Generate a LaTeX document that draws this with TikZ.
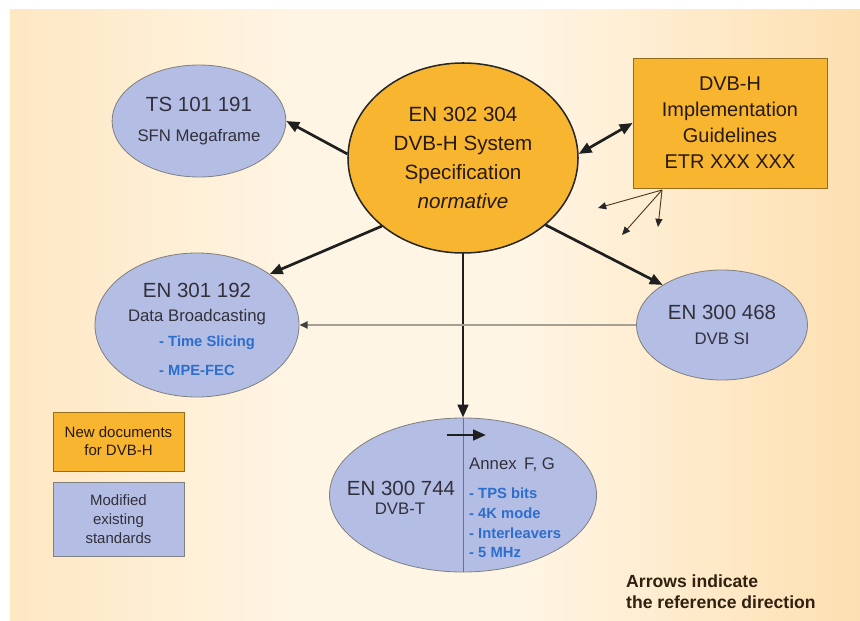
\documentclass[tikz,border=0pt]{standalone}
\usepackage{fontspec}
\setmainfont{Liberation Sans}
\usepackage{xcolor}
\usetikzlibrary{arrows.meta,shapes.geometric}

\definecolor{bgleft}{RGB}{252,210,145}
\definecolor{bgmid}{RGB}{255,245,228}
\definecolor{bgright}{RGB}{251,197,114}
\definecolor{docorange}{RGB}{248,182,48}
\definecolor{docblue}{RGB}{180,190,228}
\definecolor{inkdark}{RGB}{50,48,60}
\definecolor{inkblue}{RGB}{45,110,205}
\definecolor{reflinegray}{RGB}{165,160,145}

\pgfdeclarehorizontalshading{bgshade}{100bp}{color(0bp)=(bgleft); color(42bp)=(bgmid); color(55bp)=(bgmid); color(100bp)=(bgright)}

\newcommand{\ttlfont}{\fontsize{17.5}{21}\selectfont}
\newcommand{\subfont}{\fontsize{14.3}{17}\selectfont}
\newcommand{\itemfont}{\fontsize{12.6}{16.8}\selectfont\bfseries}

\tikzset{
  >={Triangle[length=11pt,width=9pt]},
  hub/.style={ellipse, draw=black!85, line width=1.3pt, fill=docorange, text=black!80!brown,
    inner sep=0pt, align=center, font=\fontsize{17.6}{24.7}\selectfont},
  stdell/.style={ellipse, draw=black!50, line width=0.7pt, fill=docblue, text=inkdark,
    inner sep=0pt, align=center, font=\ttlfont},
  newbox/.style={rectangle, draw=black!40!docorange, line width=0.7pt, fill=docorange,
    text=black!80!brown, inner sep=0pt, align=center},
  modbox/.style={rectangle, draw=black!50, line width=0.7pt, fill=docblue,
    text=inkdark, inner sep=0pt, align=center},
  fat/.style={->, line width=2.3pt, black!88},
  refline/.style={-{Triangle[length=7pt,width=6pt,color=black!75]}, line width=1.8pt, reflinegray},
  fanline/.style={-{Triangle[length=7pt,width=6pt,color=black!85]}, line width=0.8pt, black!55!brown},
  blueitems/.style={text=inkblue, align=left, inner sep=0pt, font=\itemfont}
}

\begin{document}
\begin{tikzpicture}[x=0.03cm, y=-0.03cm]
    \useasboundingbox (0,0) rectangle (860,621);
    % Background
    \fill[shading=bgshade] (10,10) rectangle (860,621);

    % Documents
    \node[hub, minimum width=6.9cm, minimum height=5.7cm] (main) at (463,158)
        {EN 302 304\\DVB-H System\\Specification\\\textit{normative}};
    \node[stdell, minimum width=4.86cm, minimum height=3.36cm] (ts) at (199,121)
        {TS 101 191\\[4pt]{\subfont SFN Megaframe}};
    \node[newbox, minimum width=5.82cm, minimum height=3.9cm, font=\fontsize{17}{22.2}\selectfont] (guide) at (730,123)
        {DVB-H\\Implementation\\Guidelines\\ETR XXX XXX};
    \node[stdell, minimum width=6.12cm, minimum height=4.32cm] (db) at (197,325) {};
    \node[stdell, minimum width=5.13cm, minimum height=3.3cm] (si) at (722,325)
        {EN 300 468\\[1pt]{\subfont DVB SI}};
    \node[stdell, minimum width=8.01cm, minimum height=4.62cm] (dvbt) at (463,495) {};

    % Texts in the split ellipses
    \node[text=inkdark, font=\ttlfont] (dbtitle) at (197,290) {EN 301 192};
    \node[text=inkdark, font=\subfont] (dbsub) at (197,317) {Data Broadcasting};
    \node[blueitems, anchor=north west, font=\fontsize{12.6}{24.7}\selectfont\bfseries] (dbitems) at (159,336)
        {- Time Slicing\\- MPE-FEC};
    \draw[black!55, line width=0.7pt] (dvbt.north) -- (dvbt.south);
    \node[text=inkdark, font=\ttlfont] (dvbttitle) at (401,488) {EN 300 744};
    \node[text=inkdark, font=\subfont] (dvbtsub) at (400,509) {DVB-T};
    \node[text=inkdark, font=\subfont, anchor=west, inner sep=0pt] (annex) at (469,465) {Annex\ \,F, G};
    \node[blueitems, anchor=north west] (dvbtitems) at (469,488)
        {- TPS bits\\- 4K mode\\- Interleavers\\- 5 MHz};
    \coordinate (an1) at (447,435);
    \coordinate (an2) at (486,435);
    \draw[fat] (an1) -- (an2);

    % Reference arrows
    \draw[fat] (main.178) -- (ts.east);
    \draw[fat, <->] (main.2) -- (guide.west);
    \draw[fat] (main.220) -- (db.35);
    \draw[fat] (main.321) -- (si.146);
    \draw[fat] (main) -- (dvbt);
    \draw[refline] (si) -- (db);
    \coordinate (fan) at (662,190);
    \foreach \ex/\ey in {598/208, 622/235, 658/227}
        \draw[fanline] (fan) -- (\ex,\ey);

    % Legend
    \node[newbox, minimum width=3.93cm, minimum height=1.77cm, font=\fontsize{12.8}{15.5}\selectfont] (newdoc) at (118.5,441.5)
        {New documents\\for DVB-H};
    \node[modbox, minimum width=3.93cm, minimum height=2.22cm, font=\fontsize{12.8}{16}\selectfont] (moddoc) at (118.5,519)
        {Modified\\existing\\standards};
    \node[anchor=west, align=left, inner sep=0pt, text=black!75!brown, font=\fontsize{15}{18}\selectfont\bfseries] (note) at (626,592)
        {Arrows indicate\\the reference direction};
\end{tikzpicture}
\end{document}
